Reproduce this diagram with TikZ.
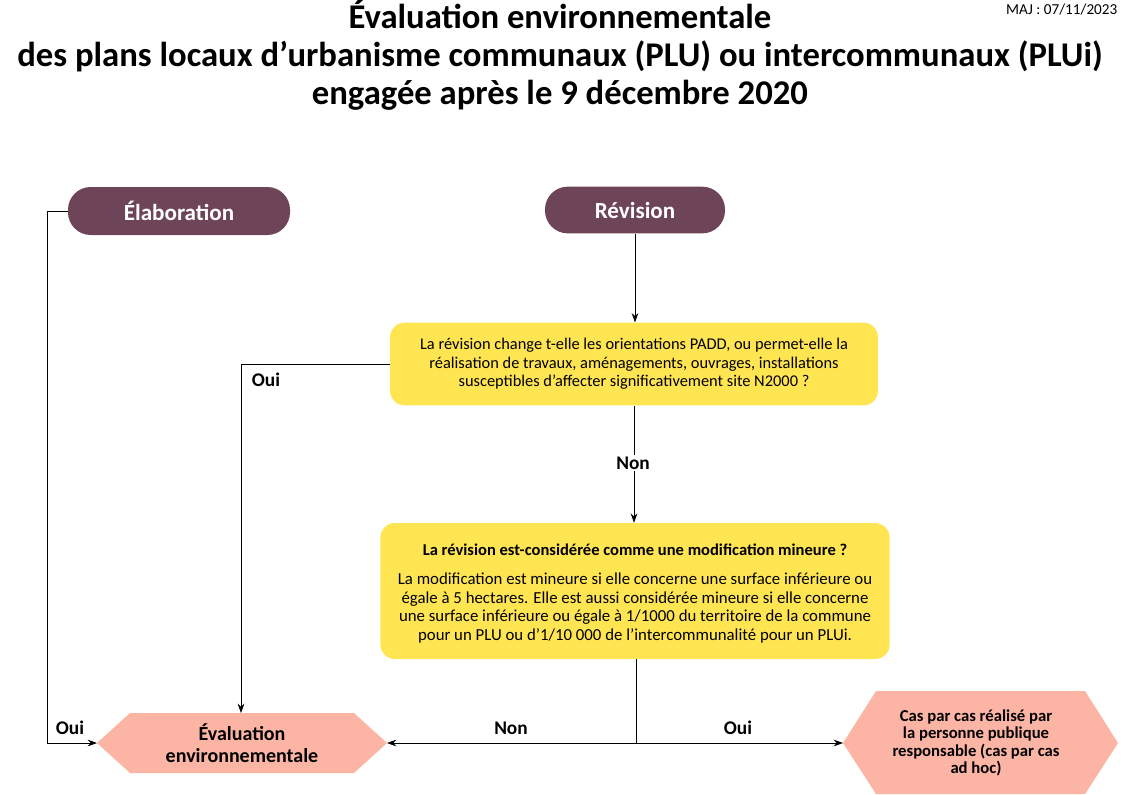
\documentclass[tikz,border=0pt]{standalone}
\usepackage{fontspec}
\setmainfont{Carlito}
\usetikzlibrary{arrows.meta}
\definecolor{prune}{HTML}{6E4459}
\definecolor{jaune}{HTML}{FFE552}
\definecolor{saumon}{HTML}{FCB5A5}
\tikzset{
 pill/.style={fill=prune,rounded corners=17pt,text=white,font=\bfseries\fontsize{17.3}{20}\selectfont,inner sep=0},
 ybox/.style={fill=jaune,rounded corners=11pt,align=center,font=\fontsize{12.3}{14}\selectfont,inner sep=0},
 hexa/.style={fill=saumon},
 lbl/.style={font=\bfseries\fontsize{14.5}{16}\selectfont},
 conn/.style={line width=0.6pt},
 arr/.style={conn,-{Stealth[length=7pt,width=5pt]}}
}
\begin{document}
\begin{tikzpicture}[x=0.75pt,y=-0.75pt]
\useasboundingbox (0,0) rectangle (1123,794);
\node[font=\bfseries\fontsize{26}{28.5}\selectfont,align=center] (title) at (560,55) {Évaluation environnementale\\des plans locaux d’urbanisme communaux (PLU) ou intercommunaux (PLUi)\\engagée après le 9 décembre 2020};
\node[font=\fontsize{11.4}{13}\selectfont,anchor=north east] (maj) at (1122,-1) {MAJ : 07/11/2023};
\node[pill,minimum width=166.5pt,minimum height=36pt] (elab) at (179,211) {Élaboration};
\node[pill,minimum width=135pt,minimum height=35pt] (rev) at (635,210) {Révision};
\node[ybox,minimum width=366pt,minimum height=62pt] (q1) at (634,364) {La révision change t-elle les orientations PADD, ou permet-elle la\\réalisation de travaux, aménagements, ouvrages, installations\\susceptibles d’affecter significativement site N2000 ?};
\node[ybox,minimum width=382pt,minimum height=102pt] (q2) at (635,591) {};
\node[font=\bfseries\fontsize{12.4}{14}\selectfont] (q2t) at (635,550) {La révision est-considérée comme une modification mineure ?};
\node[font=\fontsize{12.6}{14}\selectfont,align=center] (q2b) at (635,608) {La modification est mineure si elle concerne une surface inférieure ou\\égale à 5 hectares. Elle est aussi considérée mineure si elle concerne\\une surface inférieure ou égale à 1/1000 du territoire de la commune\\pour un PLU ou d’1/10 000 de l’intercommunalité pour un PLUi.};
\fill[hexa] (97,743) -- (130,713) -- (354,713) -- (387,743) -- (354,773) -- (130,773) -- cycle;
\node[font=\bfseries\fontsize{15}{16.5}\selectfont,align=center] (ev) at (242,743) {Évaluation\\environnementale};
\coordinate (evL) at (97,743); \coordinate (evR) at (387,743); \coordinate (evT) at (241,713);
\fill[hexa] (843,743) -- (876,691) -- (1085,691) -- (1118,743) -- (1085,794) -- (876,794) -- cycle;
\node[font=\bfseries\fontsize{12.5}{13}\selectfont,align=center] (cpc) at (976,743) {Cas par cas réalisé par\\la personne publique\\responsable (cas par cas\\ad hoc)};
\coordinate (cpL) at (843,743);
\draw[arr] (elab.west) -- (47,211) -- (47,743) -- (evL);
\draw[arr] (rev.south) -- (q1.north -| rev.south);
\draw[arr] (q1.west) -- (241,364) -- (evT);
\draw[arr] (q1.south) -- (q2.north -| q1.south);
\coordinate (j) at (636,743);
\draw[conn] (q2.south -| j) -- (j);
\draw[arr] (j) -- (evR);
\draw[arr] (j) -- (cpL);
\node[lbl] (o1) at (70,728) {Oui};
\node[lbl] (o2) at (266,380) {Oui};
\node[lbl,fill=white,inner sep=1pt] (n1) at (633,463) {Non};
\node[lbl] (n2) at (511,728) {Non};
\node[lbl] (o3) at (738,728) {Oui};
\end{tikzpicture}
\end{document}
